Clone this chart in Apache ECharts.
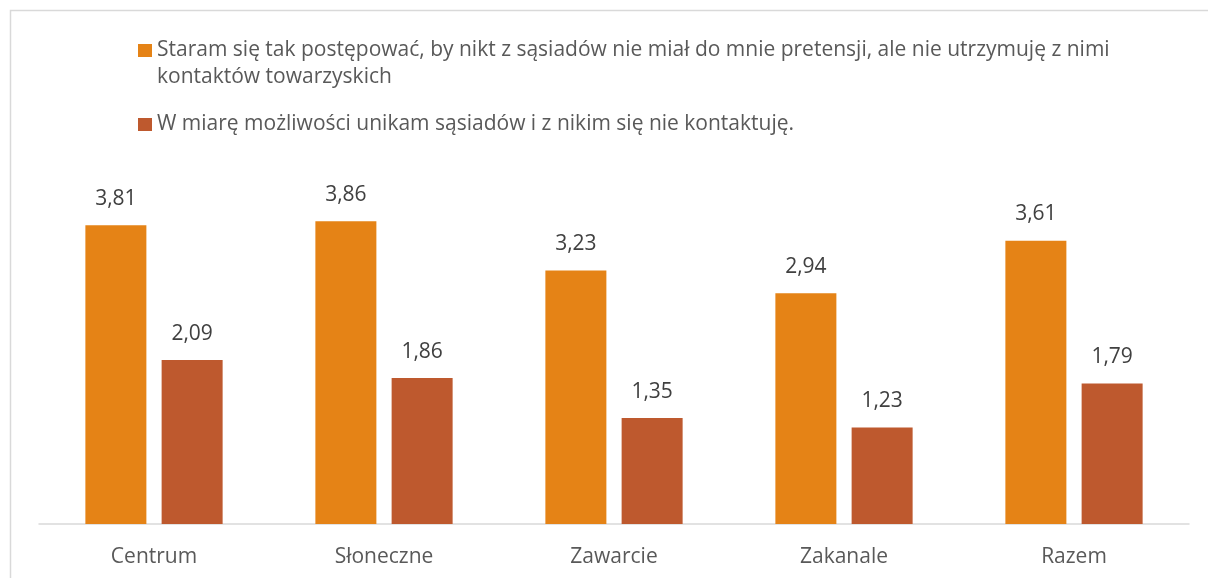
<!DOCTYPE html>
<html>
<head>
<meta charset="utf-8">
<style>
  html, body { margin: 0; padding: 0; background: #ffffff; }
  #chart { width: 1208px; height: 578px; }
</style>
<script src="https://cdn.jsdelivr.net/npm/echarts@6/dist/echarts.min.js"></script>
</head>
<body>
<div id="chart"></div>
<script>
// Districts and the average scores of the two neighbourly attitudes
const categories = ['Centrum', 'Słoneczne', 'Zawarcie', 'Zakanale', 'Razem'];
const seriesNames = [
  'Staram się tak postępować, by nikt z sąsiadów nie miał do mnie pretensji, ale nie utrzymuję z nimi\nkontaktów towarzyskich',
  'W miarę możliwości unikam sąsiadów i z nikim się nie kontaktuję.'
];
const politeValues = [3.81, 3.86, 3.23, 2.94, 3.61];
const avoidValues = [2.09, 1.86, 1.35, 1.23, 1.79];
const colors = ['#E58316', '#BE592E'];

const FONT = '"Open Sans", "Noto Sans", sans-serif';
const LINE_H = 27;

const chart = echarts.init(document.getElementById('chart'), null, { renderer: 'canvas' });

function fmt(v) {
  return v.toFixed(2).replace('.', ',');
}

function barSeries(name, data, color) {
  return {
    name: name,
    type: 'bar',
    data: data,
    barWidth: 61,
    barGap: '25%',
    itemStyle: { color: color },
    label: {
      show: true,
      position: 'top',
      distance: 16,
      color: '#404040',
      fontFamily: FONT,
      fontSize: 21,
      formatter: p => fmt(p.value)
    }
  };
}

chart.setOption({
  animation: false,
  color: colors,
  textStyle: { fontFamily: FONT },
  graphic: [{
    type: 'rect',
    shape: { x: 10.5, y: 10.5, width: 1400, height: 1000 },
    style: { fill: 'none', stroke: '#d9d9d9', lineWidth: 1.5 },
    silent: true
  }],
  legend: {
    orient: 'vertical',
    left: 133,
    top: 5,
    itemGap: 20,
    icon: 'rect',
    itemWidth: 14,
    itemHeight: 13,
    selectedMode: false,
    // a blank leading line keeps the first line of a wrapped entry beside its marker
    formatter: name => (name.indexOf('\n') >= 0 ? ' \n' + name : name),
    textStyle: {
      color: '#595959',
      fontFamily: FONT,
      fontSize: 21,
      lineHeight: LINE_H
    },
    data: seriesNames
  },
  grid: { left: 39, right: 19, top: 171, bottom: 54, containLabel: false },
  xAxis: {
    type: 'category',
    data: categories,
    axisLine: { lineStyle: { color: '#d9d9d9', width: 1.5 } },
    axisTick: { show: false },
    axisLabel: {
      color: '#595959',
      fontFamily: FONT,
      fontSize: 21,
      margin: 23
    }
  },
  yAxis: {
    type: 'value',
    min: 0,
    max: 4.5,
    show: false,
    splitLine: { show: false }
  },
  series: [
    barSeries(seriesNames[0], politeValues, colors[0]),
    barSeries(seriesNames[1], avoidValues, colors[1])
  ]
});
</script>
</body>
</html>
